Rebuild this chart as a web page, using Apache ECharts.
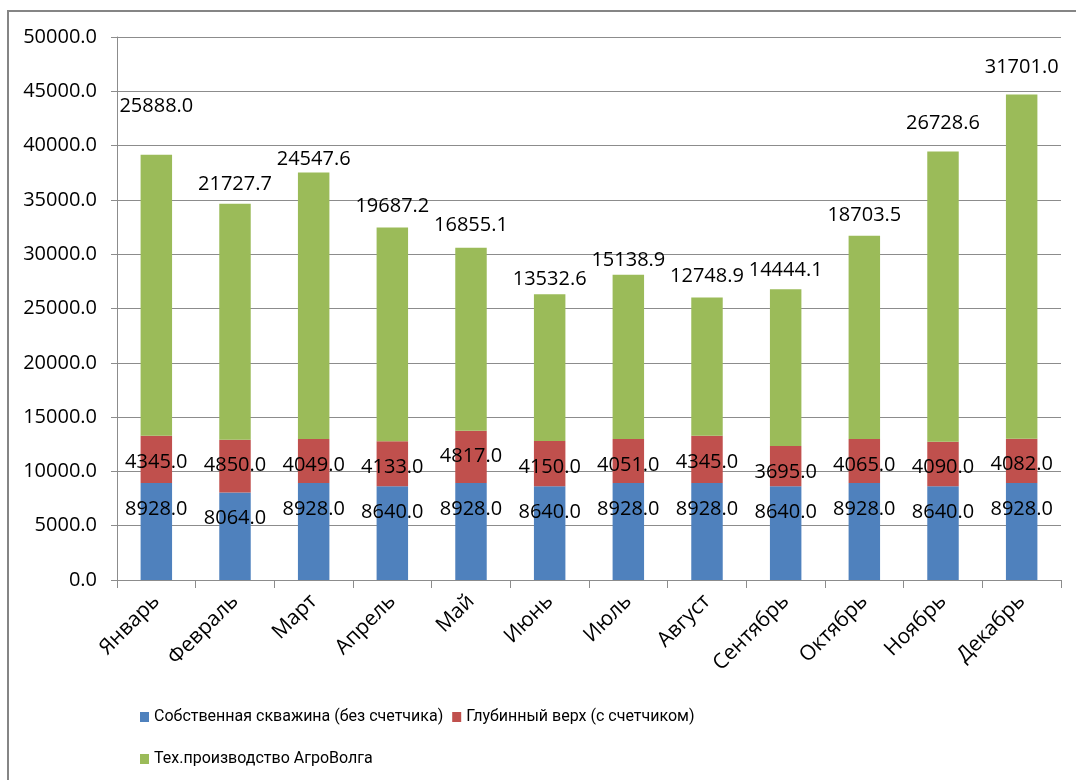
<!DOCTYPE html>
<html>
<head>
<meta charset="utf-8">
<script src="https://cdn.jsdelivr.net/npm/echarts@6/dist/echarts.min.js"></script>
<style>
  html, body { margin: 0; padding: 0; background: #fff; }
  #chart { width: 1076px; height: 780px; }
</style>
</head>
<body>
<div id="chart"></div>
<script>
// Monthly water volumes by source
const months = ['Январь', 'Февраль', 'Март', 'Апрель', 'Май', 'Июнь',
                'Июль', 'Август', 'Сентябрь', 'Октябрь', 'Ноябрь', 'Декабрь'];
const ownWell = [8928, 8064, 8928, 8640, 8928, 8640, 8928, 8928, 8640, 8928, 8640, 8928];
const deepTop = [4345, 4850, 4049, 4133, 4817, 4150, 4051, 4345, 3695, 4065, 4090, 4082];
const agroVolga = [25888.0, 21727.7, 24547.6, 19687.2, 16855.1, 13532.6,
                   15138.9, 12748.9, 14444.1, 18703.5, 26728.6, 31701.0];
const seriesNames = ['Собственная скважина (без счетчика)',
                     'Глубинный верх (с счетчиком)',
                     'Тех.производство АгроВолга'];
const yTicks = { min: 0, max: 50000, step: 5000 };

// Vertical nudges (px) for the labels sitting above the green stacks
const greenLabelLift = [-38, -9, -3.5, -11.5, -12.7, -5, -4.6, -11.4, -9, -10, -18.5, -17.5];

const colors = ['#4F81BD', '#C0504D', '#9BBB59'];
const numFont = 'Open Sans';
const legendFont = { fontFamily: 'Roboto', fontSize: 16, color: '#000' };
const fmt = v => Number(v).toFixed(1);

const innerLabel = {
  show: true,
  position: 'insideTop',
  distance: 16,
  color: '#000',
  fontFamily: numFont,
  fontSize: 20,
  lineHeight: 20,
  formatter: p => fmt(p.value)
};

const chart = echarts.init(document.getElementById('chart'), null, { renderer: 'canvas' });

chart.setOption({
  animation: false,
  backgroundColor: '#fff',
  color: colors,
  graphic: [{
    type: 'rect',
    shape: { x: 8, y: 11, width: 1100, height: 800 },
    style: { fill: 'none', stroke: '#858585', lineWidth: 2 },
    silent: true,
    z: -1
  }],
  grid: { left: 117, right: 15, top: 37, bottom: 200, containLabel: false },
  legend: [{
    data: [seriesNames[0], seriesNames[1]],
    left: 140,
    top: 709,
    padding: 0,
    itemWidth: 9,
    itemHeight: 10,
    itemGap: 9,
    icon: 'rect',
    textStyle: legendFont
  }, {
    data: [seriesNames[2]],
    left: 140,
    top: 751,
    padding: 0,
    itemWidth: 9,
    itemHeight: 10,
    icon: 'rect',
    textStyle: legendFont
  }],
  xAxis: {
    type: 'category',
    data: months,
    boundaryGap: true,
    axisLine: { show: true, lineStyle: { color: '#8c8c8c', width: 1 } },
    axisTick: { show: true, alignWithLabel: false, length: 8, lineStyle: { color: '#8c8c8c' } },
    axisLabel: {
      rotate: 45,
      margin: 18,
      interval: 0,
      color: '#000',
      fontFamily: numFont,
      fontSize: 21
    }
  },
  yAxis: {
    type: 'value',
    min: yTicks.min,
    max: yTicks.max,
    interval: yTicks.step,
    axisLine: { show: true, lineStyle: { color: '#8c8c8c', width: 1 } },
    axisTick: { show: true, inside: false, length: 6, lineStyle: { color: '#8c8c8c' } },
    splitLine: { show: true, lineStyle: { color: '#8c8c8c', width: 1 } },
    axisLabel: {
      margin: 20,
      color: '#000',
      fontFamily: numFont,
      fontSize: 20,
      formatter: v => fmt(v)
    }
  },
  series: [{
    name: seriesNames[0],
    type: 'bar',
    stack: 'total',
    barWidth: '40%',
    data: ownWell,
    label: innerLabel
  }, {
    name: seriesNames[1],
    type: 'bar',
    stack: 'total',
    barWidth: '40%',
    data: deepTop,
    label: innerLabel
  }, {
    name: seriesNames[2],
    type: 'bar',
    stack: 'total',
    barWidth: '40%',
    data: agroVolga.map((v, i) => ({
      value: v,
      label: { offset: [0, greenLabelLift[i]] }
    })),
    label: {
      show: true,
      position: 'top',
      distance: 0,
      color: '#000',
      fontFamily: numFont,
      fontSize: 20,
      lineHeight: 20,
      formatter: p => fmt(p.value)
    }
  }]
});
</script>
</body>
</html>
